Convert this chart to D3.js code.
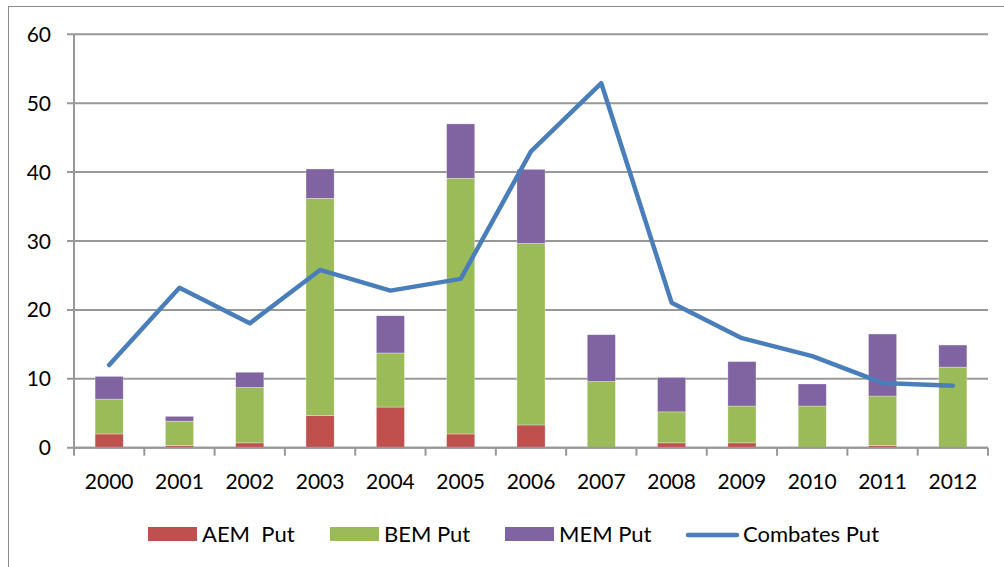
<!DOCTYPE html>
<html>
<head>
<meta charset="utf-8">
<script src="https://cdn.jsdelivr.net/npm/d3@7"></script>
<style>
  body { margin: 0; background: #fff; }
  text { font-family: Lato, "Open Sans", sans-serif; fill: #000; }
</style>
</head>
<body>
<div id="chart"></div>
<script>
// stacked bars + line
var years = ["2000","2001","2002","2003","2004","2005","2006","2007","2008","2009","2010","2011","2012"];
var aem = [2.0, 0.3, 0.7, 4.65, 5.9, 2.0, 3.3, 0, 0.7, 0.7, 0, 0.3, 0];
var bem = [5.05, 3.55, 8.05, 31.55, 7.85, 37.1, 26.35, 9.6, 4.5, 5.35, 6.05, 7.2, 11.7];
var mem = [3.3, 0.7, 2.2, 4.25, 5.4, 7.9, 10.75, 6.8, 5.0, 6.45, 3.2, 9.0, 3.2];
var combates = [12.0, 23.2, 18.05, 25.8, 22.8, 24.5, 43.0, 52.9, 21.05, 15.9, 13.3, 9.4, 9.0];
var yTicks = [0, 10, 20, 30, 40, 50, 60];
var seriesNames = ["AEM  Put", "BEM Put", "MEM Put"];
var seriesColors = ["#c0504d", "#9bbb59", "#8064a2"];
var lineName = "Combates Put", lineColor = "#4a7ebb";

(function() {
	"use strict";
	var W = 1004, H = 567,
	left = 74, right = 988, top = 34.3, bottom = 447.7;

	var svg = d3.select("#chart").append("svg")
	.attr("width", W).attr("height", H);

	// outer frame (cut off at right/bottom)
	svg.append("rect")
	.attr("x", 8.5).attr("y", 6.5)
	.attr("width", 1010).attr("height", 580)
	.attr("fill", "none").attr("stroke", "#8c8c8c").attr("stroke-width", 1);

	var x = d3.scaleBand().domain(years).range([left, right]).paddingInner(0.6).paddingOuter(0.3);
	var xb = d3.scaleBand().domain(years).range([left, right]);
	var y = d3.scaleLinear().domain([0, 60]).range([bottom, top]);

	// gridlines
	svg.append("g").selectAll("line").data(yTicks).enter().append("line")
	.attr("x1", left - 7).attr("x2", right)
	.attr("y1", function(d) { return y(d); })
	.attr("y2", function(d) { return y(d); })
	.attr("stroke", "#989898").attr("stroke-width", 2);

	// y axis
	svg.append("line")
	.attr("x1", left).attr("x2", left).attr("y1", top).attr("y2", bottom)
	.attr("stroke", "#989898").attr("stroke-width", 2);
	svg.append("g").selectAll("text").data(yTicks).enter().append("text")
	.attr("x", 51).attr("y", function(d) { return y(d); })
	.attr("dy", "0.36em").attr("text-anchor", "end")
	.style("font-size", "21px")
	.text(function(d) { return d; });

	// stacked bars
	var rows = years.map(function(yr, i) {
		return { year: yr, a: aem[i], b: bem[i], m: mem[i] };
	});
	var stack = d3.stack().keys(["a", "b", "m"])(rows);
	svg.append("g").selectAll("g").data(stack).enter().append("g")
	.attr("fill", function(d, i) { return seriesColors[i]; })
	.selectAll("rect").data(function(d) { return d; }).enter().append("rect")
	.attr("x", function(d) { return x(d.data.year); })
	.attr("width", x.bandwidth())
	.attr("y", function(d) { return y(d[1]); })
	.attr("height", function(d) { return y(d[0]) - y(d[1]); })
	.attr("stroke", "#fff").attr("stroke-opacity", 0.5).attr("stroke-width", 0.6);

	// x axis line + ticks at category boundaries
	svg.append("line")
	.attr("x1", left).attr("x2", right).attr("y1", bottom).attr("y2", bottom)
	.attr("stroke", "#989898").attr("stroke-width", 2);
	var bounds = years.map(function(yr) { return xb(yr); }).concat([right]);
	svg.append("g").selectAll("line").data(bounds).enter().append("line")
	.attr("x1", function(d) { return d; }).attr("x2", function(d) { return d; })
	.attr("y1", bottom).attr("y2", bottom + 8)
	.attr("stroke", "#989898").attr("stroke-width", 2);
	svg.append("g").selectAll("text").data(years).enter().append("text")
	.attr("x", function(d) { return xb(d) + xb.bandwidth() / 2; })
	.attr("y", 489).attr("text-anchor", "middle")
	.style("font-size", "21px")
	.text(function(d) { return d; });

	// line series
	var line = d3.line()
	.x(function(d, i) { return xb(years[i]) + xb.bandwidth() / 2; })
	.y(function(d) { return y(d); });
	svg.append("path").datum(combates)
	.attr("d", line)
	.attr("fill", "none").attr("stroke", lineColor)
	.attr("stroke-width", 4.5).attr("stroke-linejoin", "round").attr("stroke-linecap", "round");

	// legend
	var legX = [148, 330, 505], legY = 534;
	var leg = svg.append("g");
	seriesNames.forEach(function(name, i) {
		leg.append("rect").attr("x", legX[i]).attr("y", legY - 7)
		.attr("width", 49).attr("height", 14).attr("fill", seriesColors[i]);
		leg.append("text").attr("x", legX[i] + 54).attr("y", legY)
		.attr("dy", "0.36em").attr("xml:space", "preserve")
		.style("white-space", "pre").style("font-size", "22px").text(name);
	});
	leg.append("line").attr("x1", 688).attr("x2", 737).attr("y1", legY + 1).attr("y2", legY + 1)
	.attr("stroke", lineColor).attr("stroke-width", 4.5).attr("stroke-linecap", "round");
	leg.append("text").attr("x", 743).attr("y", legY)
	.attr("dy", "0.36em").style("font-size", "22px").text(lineName);
}());
</script>
</body>
</html>
